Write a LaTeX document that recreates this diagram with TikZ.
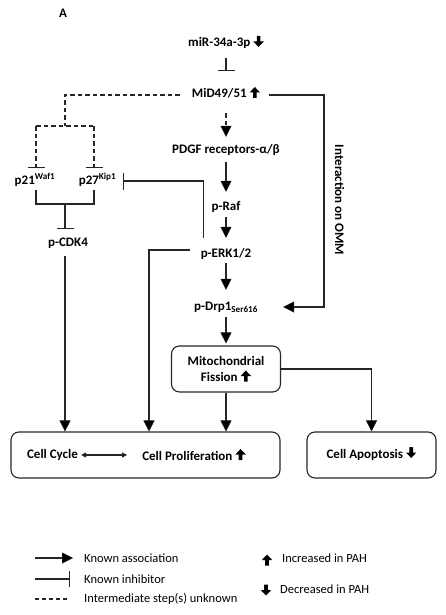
\documentclass[tikz,border=0pt]{standalone}
\usepackage{fontspec}
\setmainfont{Carlito}
\usetikzlibrary{arrows.meta,calc}
\newcommand{\UpArr}{\tikz[x=1pt,y=1pt,baseline=0pt,sharp corners]\fill[black,draw=none] (-1.8,0) -- (1.8,0) -- (1.8,5.5) -- (5.2,5.5) -- (0,11) -- (-5.2,5.5) -- (-1.8,5.5) -- cycle;}
\newcommand{\DnArr}{\tikz[x=1pt,y=1pt,baseline=0pt,sharp corners]\fill[black,draw=none] (-1.8,11) -- (1.8,11) -- (1.8,5.5) -- (5.2,5.5) -- (0,0) -- (-5.2,5.5) -- (-1.8,5.5) -- cycle;}
\tikzset{
  lbl/.style={font=\fontsize{13}{16}\selectfont\bfseries, inner sep=3pt, text height=9pt, text depth=3pt},
  leg/.style={font=\fontsize{12.5}{15}\selectfont, inner sep=0pt, anchor=west},
  conn/.style={line width=1.1pt, draw=black!85},
  arr/.style={conn, -{Triangle[width=11pt,length=11pt,fill=black,line width=0.4pt]}},
  inh/.style={conn, -{Bar[width=17pt,line width=1.1pt]}},
  dsh/.style={conn, dash pattern=on 4.5pt off 3pt},
  box/.style={draw=black!85, line width=1.1pt, rounded corners=8pt},
}
\begin{document}
\begin{tikzpicture}[x=1pt,y=-1pt]
\useasboundingbox (0,0) rectangle (446,615);
\node[lbl] (A) at (63,15) {A};
\node[lbl] (mir) at (226,44) {miR-34a-3p \DnArr};
\node[lbl] (mid) at (226,95) {MiD49/51 \UpArr};
\node[lbl] (pdgf) at (226,150) {PDGF receptors-α/β};
\node[lbl] (raf) at (226,207) {p-Raf};
\node[lbl] (erk) at (226,254) {p-ERK1/2};
\node[lbl] (drp) at (226,307) {p-Drp1\textsubscript{Ser616}};
\node[lbl] (p21) at (35,181) {p21\textsuperscript{Waf1}};
\node[lbl] (p27) at (97.5,181) {p27\textsuperscript{Kip1}};
\node[lbl] (cdk4) at (68,243) {p-CDK4};
\node[lbl, rotate=-90] (omm) at (338,200) {Interaction on OMM};
\node[lbl, box, align=center, minimum width=109pt, minimum height=46pt, text height=, text depth=] (mito) at (226,369) {Mitochondrial\\Fission \UpArr};
\node[box, minimum width=269pt, minimum height=46pt] (cell) at (145.5,455) {};
\node[lbl] (cc) at (52.5,455) {Cell Cycle};
\node[lbl] (prol) at (194,457) {Cell Proliferation \UpArr};
\node[lbl, box, minimum width=129pt, minimum height=46pt] (apop) at (371.5,455) {Cell Apoptosis \DnArr};

\coordinate (split) at (65,126);
\coordinate (br1) at (36,126);
\coordinate (br2) at (94,126);
\coordinate (join) at (65,204);
\coordinate (pcol) at (149,0);
\coordinate (rc) at (324,0);
\coordinate (ek) at ($(erk.north west)+(6,-7)$);

% main column
\draw[inh] ([yshift=-5pt]mir.south) -- ([yshift=15pt]mid.north);
\draw[arr, dsh] ([yshift=-9pt]mid.south) -- ([yshift=4pt]pdgf.north);
\draw[arr] ([yshift=-3pt]pdgf.south) -- ([yshift=6pt]raf.north);
\draw[arr] ([yshift=-1pt]raf.south) -- ([yshift=7pt]erk.north);
\draw[arr] (erk.south) -- ([yshift=8pt]drp.north);
\draw[arr] ([yshift=-1pt]drp.south) -- ([yshift=2pt]mito.north);
\draw[arr] (mito.south) -- (mito.south |- cell.north);
\draw[arr] (mito.east) -| (apop.north);

% left branch
\draw[dsh, shorten <=9pt] (mid.west) -| (split);
\draw[dsh] (br1) -- (br2);
\draw[dsh, inh, shorten >=4pt] (br1) -- (br1 |- p21.north);
\draw[dsh, inh, shorten >=4pt] (br2) -- (br2 |- p27.north);
\draw[conn] (br1 |- p21.south) -- (br1 |- join) -- (br2 |- join) -- (br2 |- p27.south);
\draw[inh, shorten >=5pt] (join) -- (join |- cdk4.north);
\draw[arr, shorten <=4pt] (join |- cdk4.south) -- (join |- cell.north);
\draw[inh, shorten >=4pt] (ek) |- (p27.east);
\draw[arr, shorten <=8pt] ([yshift=4pt]erk.west) -| (pcol |- cell.north);

% right branch
\draw[arr, shorten <=6pt, shorten >=22pt] (mid.east) -| (rc |- drp.east) -- (drp.east);

% inside cell box
\draw[conn, {Triangle[width=5pt,length=5pt,fill=black]}-{Triangle[width=5pt,length=5pt,fill=black]}, shorten >=12pt] (cc.east) -- (prol.west |- cc.east);

% legend
\coordinate (la1) at (35,558); \coordinate (la2) at (73,558);
\coordinate (lb1) at (35,579); \coordinate (lb2) at (70,579);
\coordinate (lc1) at (35,599); \coordinate (lc2) at (70,599);
\draw[arr] (la1) -- (la2);
\draw[conn, -{Bar[width=16pt,line width=1.1pt]}] (lb1) -- (lb2);
\draw[conn, dash pattern=on 3.5pt off 3.5pt] (lc1) -- (lc2);
\node[leg] (t1) at (84,558) {Known association};
\node[leg] (t2) at (84,579) {Known inhibitor};
\node[leg] (t3) at (84,599) {Intermediate step(s) unknown};
\node[inner sep=0pt] (u) at (267,560) {\UpArr};
\node[inner sep=0pt] (d) at (266,590) {\DnArr};
\node[leg] (t4) at (282,558) {Increased in PAH};
\node[leg] (t5) at (280,589) {Decreased in PAH};
\end{tikzpicture}
\end{document}
